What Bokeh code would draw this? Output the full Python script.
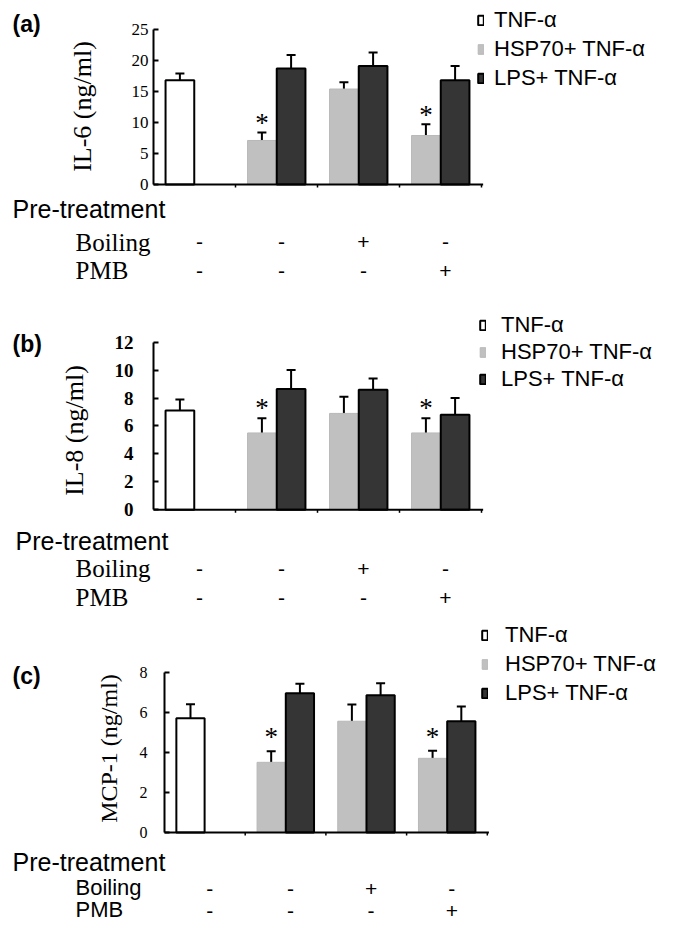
import math
from bokeh.plotting import figure
from bokeh.models import (Range1d, Label, Legend, LegendItem, Whisker, TeeHead,
                          ColumnDataSource, FixedTicker)
from bokeh.layouts import column
from bokeh.embed import file_html
from bokeh.resources import INLINE
from bokeh.core.properties import value

# ---------------- data ----------------
groups = [0, 1, 2, 3]
series_labels = ["TNF-α", "HSP70+ TNF-α", "LPS+ TNF-α"]
row_title = "Pre-treatment"
row_labels = ["Boiling", "PMB"]
boiling = ["-", "-", "+", "-"]
pmb = ["-", "-", "-", "+"]
significant = [True, False, True]          # HSP70 bars of groups 1..3

il6_tnf, il6_tnf_err = 16.8, 1.1
il6_hsp = [7.1, 15.4, 7.9]
il6_hsp_err = [1.3, 1.1, 1.8]
il6_lps = [18.7, 19.1, 16.8]
il6_lps_err = [2.2, 2.2, 2.3]
il6_ticks = [0, 5, 10, 15, 20, 25]

il8_tnf, il8_tnf_err = 7.1, 0.8
il8_hsp = [5.5, 6.9, 5.5]
il8_hsp_err = [1.05, 1.2, 1.05]
il8_lps = [8.65, 8.6, 6.8]
il8_lps_err = [1.35, 0.8, 1.2]
il8_ticks = [0, 2, 4, 6, 8, 10, 12]

mcp_tnf, mcp_tnf_err = 5.7, 0.7
mcp_hsp = [3.5, 5.55, 3.7]
mcp_hsp_err = [0.55, 0.83, 0.38]
mcp_lps = [6.95, 6.85, 5.55]
mcp_lps_err = [0.47, 0.6, 0.73]
mcp_ticks = [0, 2, 4, 6, 8]

SANS = "Liberation Sans"
SERIF = "Liberation Serif"
W = 669
BAR_W = 0.35
OFF = 0.178
AXIS_X = -0.5


def build(letter, ylabel, tnf, tnf_err, hsp, hsp_err, lps, lps_err, ticks,
          top, height, axis_px, zero, ppu, gspace, tick_bold, tick_size,
          tick_standoff, ylabel_pos, ylabel_size, leg_pos, leg_spacing,
          leg_standoff, row_font, rows_y, sign_y, star_d):
    fb = top + height
    y0 = -(fb - zero) / ppu
    y1 = (zero - top) / ppu
    x0 = AXIS_X - axis_px / gspace
    x1 = x0 + W / gspace
    p = figure(width=W, height=height, x_range=Range1d(x0, x1),
               y_range=Range1d(y0, y1), output_backend="svg",
               toolbar_location=None, x_axis_location=None,
               min_border_left=0, min_border_right=0, min_border_top=0,
               min_border_bottom=0, outline_line_color=None, title=None)
    p.grid.visible = False

    ax = p.yaxis[0]
    ax.fixed_location = AXIS_X
    ax.ticker = FixedTicker(ticks=ticks)
    ax.bounds = (ticks[0], ticks[-1])
    ax.axis_line_width = 2
    ax.axis_line_color = "black"
    ax.major_tick_in = 5
    ax.major_tick_out = 0
    ax.major_tick_line_width = 2
    ax.minor_tick_line_color = None
    ax.major_label_text_font = SERIF
    ax.major_label_text_font_size = tick_size
    ax.major_label_text_font_style = "bold" if tick_bold else "normal"
    ax.major_label_text_color = "black"
    ax.major_label_standoff = tick_standoff

    def sx(px):
        return px

    def sy(py):
        return fb - py

    # bars
    s_tnf = ColumnDataSource(dict(x=[groups[0] - OFF], top=[tnf],
                                  up=[tnf + tnf_err]))
    s_hsp = ColumnDataSource(dict(x=[g - OFF for g in groups[1:]], top=hsp,
                                  up=[v + e for v, e in zip(hsp, hsp_err)]))
    s_lps = ColumnDataSource(dict(x=[g + OFF for g in groups[1:]], top=lps,
                                  up=[v + e for v, e in zip(lps, lps_err)]))
    for s in (s_tnf, s_hsp, s_lps):
        p.add_layout(Whisker(source=s, base="x", lower="top", upper="up",
                             dimension="height", line_width=2,
                             line_color="black",
                             upper_head=TeeHead(size=9, line_width=2,
                                                line_color="black"),
                             lower_head=None, level="underlay"))
    r_tnf = p.vbar(x="x", top="top", width=BAR_W, bottom=0, source=s_tnf,
                   fill_color="white", line_color="black", line_width=2)
    r_hsp = p.vbar(x="x", top="top", width=BAR_W, bottom=0, source=s_hsp,
                   fill_color="#c0c0c0", line_color="#b8b8b8", line_width=1)
    r_lps = p.vbar(x="x", top="top", width=BAR_W, bottom=0, source=s_lps,
                   fill_color="#353535", line_color="black", line_width=2)

    # baseline and small ticks
    base_end = groups[-1] + 0.52
    p.segment(x0=[AXIS_X], y0=[0], x1=[base_end], y1=[0], line_color="black",
              line_width=2)
    depth = 3 / ppu
    bx = [g + 0.5 for g in groups]
    p.segment(x0=bx, y0=[0] * len(bx), x1=bx, y1=[-depth] * len(bx),
              line_color="black", line_width=1.5)

    # stars
    sx_star = [g - OFF for g, sig in zip(groups[1:], significant) if sig]
    sy_star = [v + e for v, e, sig in zip(hsp, hsp_err, significant) if sig]
    p.text(x=sx_star, y=sy_star, text=["*"] * len(sx_star),
           text_font=value(SERIF), text_font_size="27px",
           text_align="center", text_baseline="middle",
           y_offset=-(star_d - 5), text_color="black")

    # legend
    items = [LegendItem(label=value(series_labels[0]), renderers=[r_tnf]),
             LegendItem(label=value(series_labels[1]), renderers=[r_hsp]),
             LegendItem(label=value(series_labels[2]), renderers=[r_lps])]
    lx, ltop = leg_pos
    lh = 3 * 24 + 2 * leg_spacing
    leg = Legend(items=items, location=(sx(lx), sy(ltop + lh)),
                 glyph_width=7, glyph_height=12, label_standoff=leg_standoff,
                 spacing=leg_spacing, padding=0, margin=0, label_height=24,
                 border_line_color=None, background_fill_alpha=0,
                 label_text_font=SANS, label_text_font_size="22px",
                 label_text_color="black")
    p.add_layout(leg)

    # panel letter
    p.add_layout(Label(x=sx(12), y=sy(letter[1]),
                       x_units="screen", y_units="screen", text=letter[0],
                       text_font=SANS, text_font_style="bold",
                       text_font_size="23px", text_baseline="middle",
                       text_align="left", text_color="black"))
    # y axis label
    p.add_layout(Label(x=sx(ylabel_pos[0]), y=sy(ylabel_pos[1]),
                       x_units="screen", y_units="screen", text=ylabel,
                       angle=math.pi / 2, text_font=SERIF,
                       text_font_size=ylabel_size, text_align="center",
                       text_baseline="middle", text_color="black"))
    # row labels
    p.add_layout(Label(x=sx(rows_y[0][0]), y=sy(rows_y[0][1]),
                       x_units="screen", y_units="screen", text=row_title,
                       text_font=SANS, text_font_size="25px",
                       text_baseline="middle", text_color="black"))
    for lab, (px, py) in zip(row_labels, rows_y[1:]):
        p.add_layout(Label(x=sx(px), y=sy(py), x_units="screen",
                           y_units="screen", text=lab, text_font=row_font[0],
                           text_font_size=row_font[1],
                           text_baseline="middle", text_color="black"))
    for signs, py in zip((boiling, pmb), sign_y):
        for g, s in zip(groups, signs):
            p.add_layout(Label(x=g + 0.06, y=sy(py), x_units="data",
                               y_units="screen", text=s, text_font=SANS,
                               text_font_size="21px", text_align="center",
                               text_baseline="middle", text_color="black"))
    return p


pa = build(("(a)", 23), "IL-6 (ng/ml)", il6_tnf, il6_tnf_err, il6_hsp,
           il6_hsp_err, il6_lps, il6_lps_err, il6_ticks,
           top=0, height=300, axis_px=153, zero=184, ppu=6.2, gspace=82,
           tick_bold=False, tick_size="17px", tick_standoff=5,
           ylabel_pos=(82, 106), ylabel_size="26px",
           leg_pos=(477, 13), leg_spacing=3, leg_standoff=10,
           row_font=(SERIF, "25px"),
           rows_y=[(12, 208), (75, 242), (75, 270)], sign_y=(241, 270),
           star_d=14)

pb = build(("(b)", 343), "IL-8 (ng/ml)", il8_tnf, il8_tnf_err, il8_hsp,
           il8_hsp_err, il8_lps, il8_lps_err, il8_ticks,
           top=300, height=315, axis_px=153, zero=509.3, ppu=13.97,
           gspace=82, tick_bold=True, tick_size="19px", tick_standoff=20,
           ylabel_pos=(74, 430), ylabel_size="26px",
           leg_pos=(479, 318), leg_spacing=1, leg_standoff=15,
           row_font=(SERIF, "25px"),
           rows_y=[(15, 540), (75, 568), (75, 597)], sign_y=(568, 597),
           star_d=15)

pc = build(("(c)", 675), "MCP-1 (ng/ml)", mcp_tnf, mcp_tnf_err, mcp_hsp,
           mcp_hsp_err, mcp_lps, mcp_lps_err, mcp_ticks,
           top=615, height=310, axis_px=164, zero=832, ppu=20.05,
           gspace=80.7, tick_bold=False, tick_size="16px", tick_standoff=17,
           ylabel_pos=(108, 748), ylabel_size="24px",
           leg_pos=(481, 628), leg_spacing=3, leg_standoff=17,
           row_font=(SANS, "22px"),
           rows_y=[(12, 861), (75, 887), (75, 909)], sign_y=(888, 910),
           star_d=19)

layout = column(pa, pb, pc, spacing=0)
open("out.html", "w").write(file_html(layout, INLINE))
